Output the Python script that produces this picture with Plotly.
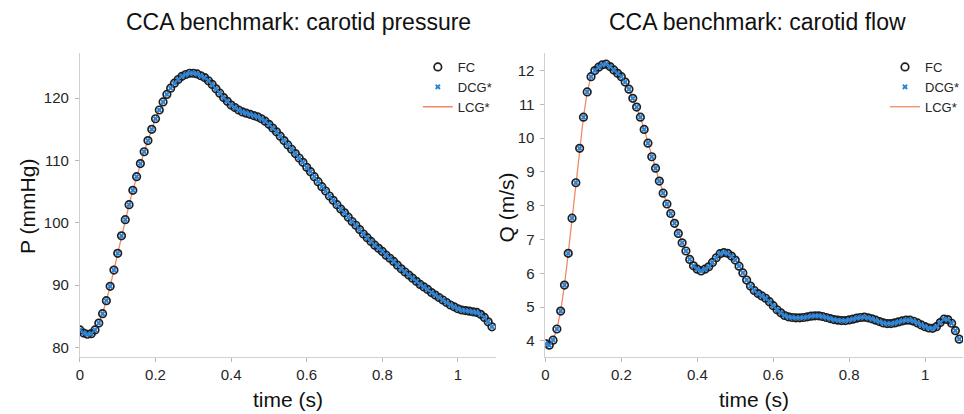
import plotly.graph_objects as go

# ---------------- data ----------------
time_s = [0.00, 0.01, 0.02, 0.03, 0.04, 0.05, 0.06, 0.07, 0.08, 0.09,
          0.10, 0.11, 0.12, 0.13, 0.14, 0.15, 0.16, 0.17, 0.18, 0.19,
          0.20, 0.21, 0.22, 0.23, 0.24, 0.25, 0.26, 0.27, 0.28, 0.29,
          0.30, 0.31, 0.32, 0.33, 0.34, 0.35, 0.36, 0.37, 0.38, 0.39,
          0.40, 0.41, 0.42, 0.43, 0.44, 0.45, 0.46, 0.47, 0.48, 0.49,
          0.50, 0.51, 0.52, 0.53, 0.54, 0.55, 0.56, 0.57, 0.58, 0.59,
          0.60, 0.61, 0.62, 0.63, 0.64, 0.65, 0.66, 0.67, 0.68, 0.69,
          0.70, 0.71, 0.72, 0.73, 0.74, 0.75, 0.76, 0.77, 0.78, 0.79,
          0.80, 0.81, 0.82, 0.83, 0.84, 0.85, 0.86, 0.87, 0.88, 0.89,
          0.90, 0.91, 0.92, 0.93, 0.94, 0.95, 0.96, 0.97, 0.98, 0.99,
          1.00, 1.01, 1.02, 1.03, 1.04, 1.05, 1.06, 1.07, 1.08, 1.09]

pressure_mmHg = [82.8, 82.3, 82.1, 82.2, 82.8, 83.9, 85.4, 87.5, 89.8, 92.4,
                 95.1, 97.9, 100.5, 102.9, 105.2, 107.4, 109.5, 111.4, 113.2, 115.0,
                 116.7, 118.1, 119.4, 120.6, 121.6, 122.4, 123.0, 123.5, 123.8, 124.0,
                 124.0, 123.9, 123.6, 123.3, 122.8, 122.2, 121.5, 120.8, 120.1, 119.5,
                 118.9, 118.5, 118.1, 117.8, 117.6, 117.4, 117.2, 117.0, 116.7, 116.3,
                 115.8, 115.2, 114.6, 113.9, 113.2, 112.5, 111.8, 111.1, 110.4, 109.7,
                 108.9, 108.2, 107.4, 106.6, 105.8, 105.1, 104.3, 103.6, 102.9, 102.2,
                 101.6, 100.9, 100.2, 99.6, 98.9, 98.2, 97.6, 97.0, 96.4, 95.9,
                 95.4, 94.8, 94.3, 93.8, 93.2, 92.6, 92.1, 91.6, 91.1, 90.6,
                 90.1, 89.7, 89.3, 88.8, 88.4, 88.0, 87.6, 87.2, 86.8, 86.5,
                 86.2, 86.0, 85.9, 85.8, 85.7, 85.6, 85.3, 84.8, 84.1, 83.3]

flow_ms = [3.92, 3.87, 4.02, 4.35, 4.88, 5.65, 6.59, 7.63, 8.68, 9.70,
           10.62, 11.37, 11.82, 12.00, 12.10, 12.17, 12.19, 12.12, 12.02, 11.92,
           11.82, 11.66, 11.45, 11.18, 10.92, 10.62, 10.26, 9.85, 9.45, 9.11,
           8.73, 8.37, 8.05, 7.77, 7.48, 7.18, 6.90, 6.66, 6.41, 6.22,
           6.12, 6.07, 6.12, 6.19, 6.32, 6.46, 6.58, 6.61, 6.59, 6.51,
           6.39, 6.21, 6.01, 5.80, 5.62, 5.49, 5.40, 5.33, 5.26, 5.16,
           5.04, 4.92, 4.83, 4.75, 4.71, 4.69, 4.68, 4.68, 4.69, 4.71,
           4.73, 4.74, 4.74, 4.72, 4.69, 4.66, 4.63, 4.61, 4.60, 4.60,
           4.62, 4.64, 4.67, 4.69, 4.70, 4.68, 4.65, 4.61, 4.57, 4.53,
           4.51, 4.51, 4.53, 4.56, 4.59, 4.61, 4.61, 4.58, 4.53, 4.47,
           4.42, 4.38, 4.37, 4.42, 4.54, 4.64, 4.63, 4.52, 4.30, 4.05]

# the three solvers overlap within plotting precision
pressure_series = {"FC": pressure_mmHg, "DCG*": pressure_mmHg, "LCG*": pressure_mmHg}
flow_series = {"FC": flow_ms, "DCG*": flow_ms, "LCG*": flow_ms}

x_ticks = [0, 0.2, 0.4, 0.6, 0.8, 1]
x_tick_text = ["0", "0.2", "0.4", "0.6", "0.8", "1"]
p_ticks = [80, 90, 100, 110, 120]
q_ticks = [4, 5, 6, 7, 8, 9, 10, 11, 12]

# ---------------- styling ----------------
FONT = "Liberation Sans, Arial, Helvetica, sans-serif"
TXT = "#262626"
LINE_COL = "#F08A66"
X_COL = "#2B83D6"
CIRC_COL = "#1E1E1E"

fig = go.Figure()

def add_panel(series, xa, ya, legend):
    fig.add_trace(go.Scatter(
        x=time_s, y=series["LCG*"], mode="lines", name="LCG*",
        line=dict(color=LINE_COL, width=1.3), xaxis=xa, yaxis=ya,
        legend=legend, legendrank=3, showlegend=True))
    fig.add_trace(go.Scatter(
        x=time_s, y=series["FC"], mode="markers", name="FC",
        marker=dict(symbol="circle-open", size=7.5, color=CIRC_COL,
                    line=dict(width=1.7, color=CIRC_COL)),
        xaxis=xa, yaxis=ya, legend=legend, legendrank=1))
    fig.add_trace(go.Scatter(
        x=time_s, y=series["DCG*"], mode="markers", name="DCG*",
        marker=dict(symbol="x", size=5, color=X_COL, line=dict(width=0)),
        xaxis=xa, yaxis=ya, legend=legend, legendrank=2))

add_panel(pressure_series, "x", "y", "legend")
add_panel(flow_series, "x2", "y2", "legend2")

W, H = 964, 414
def px(v):
    return v / W
def py(v):
    return (H - v) / H

ydom = [py(356.7), py(52.7)]

axis_common = dict(
    showgrid=False, zeroline=False, showline=True, linecolor="#D0D0D0",
    linewidth=1, ticks="outside", ticklen=4, tickcolor="#B8B8B8",
    tickfont=dict(family=FONT, size=15, color=TXT), mirror=False,
)

legend_common = dict(
    xanchor="left", yanchor="top", bgcolor="rgba(0,0,0,0)",
    font=dict(family=FONT, size=13, color=TXT), itemwidth=30,
    tracegroupgap=0, borderwidth=0,
)

fig.update_layout(
    width=W, height=H,
    margin=dict(l=0, r=0, t=0, b=0),
    paper_bgcolor="white", plot_bgcolor="white",
    font=dict(family=FONT, color=TXT),
    xaxis=dict(domain=[px(76.3), px(494.3)], range=[0, 1.1], anchor="y",
               tickvals=x_ticks, ticktext=x_tick_text, **axis_common),
    yaxis=dict(domain=ydom, range=[78.5, 127.3], anchor="x",
               tickvals=p_ticks, ticklabelstandoff=3, **axis_common),
    xaxis2=dict(domain=[px(544.3), 1.0], range=[0, 1.1], anchor="y2",
                tickvals=x_ticks, ticktext=x_tick_text, **axis_common),
    yaxis2=dict(domain=ydom, range=[3.53, 12.53], anchor="x2",
                tickvals=q_ticks, ticklabelstandoff=3, **axis_common),
    legend=dict(x=px(416), y=py(52), **legend_common),
    legend2=dict(x=px(886), y=py(52), **legend_common),
    showlegend=True,
)

ann_font_title = dict(family=FONT, size=23, color="#111111")
ann_font_axis = dict(family=FONT, size=21, color="#111111")
annotations = [
    dict(text="CCA benchmark: carotid pressure", x=px(296), y=py(22),
         font=ann_font_title),
    dict(text="CCA benchmark: carotid flow", x=px(757), y=py(22),
         font=ann_font_title),
    dict(text="time (s)", x=px(285), y=py(399), font=ann_font_axis),
    dict(text="time (s)", x=px(754), y=py(399), font=ann_font_axis),
    dict(text="P (mmHg)", x=px(23), y=py(206), textangle=-90, font=ann_font_axis),
    dict(text="Q (m/s)", x=px(505), y=py(207), textangle=-90, font=ann_font_axis),
]
for a in annotations:
    a.update(xref="paper", yref="paper", showarrow=False,
             xanchor="center", yanchor="middle")
fig.update_layout(annotations=annotations)

fig.write_html(
    "out.html",
    config={"displayModeBar": False},
    post_script="document.body.style.margin='0';document.body.style.padding='0';",
)
